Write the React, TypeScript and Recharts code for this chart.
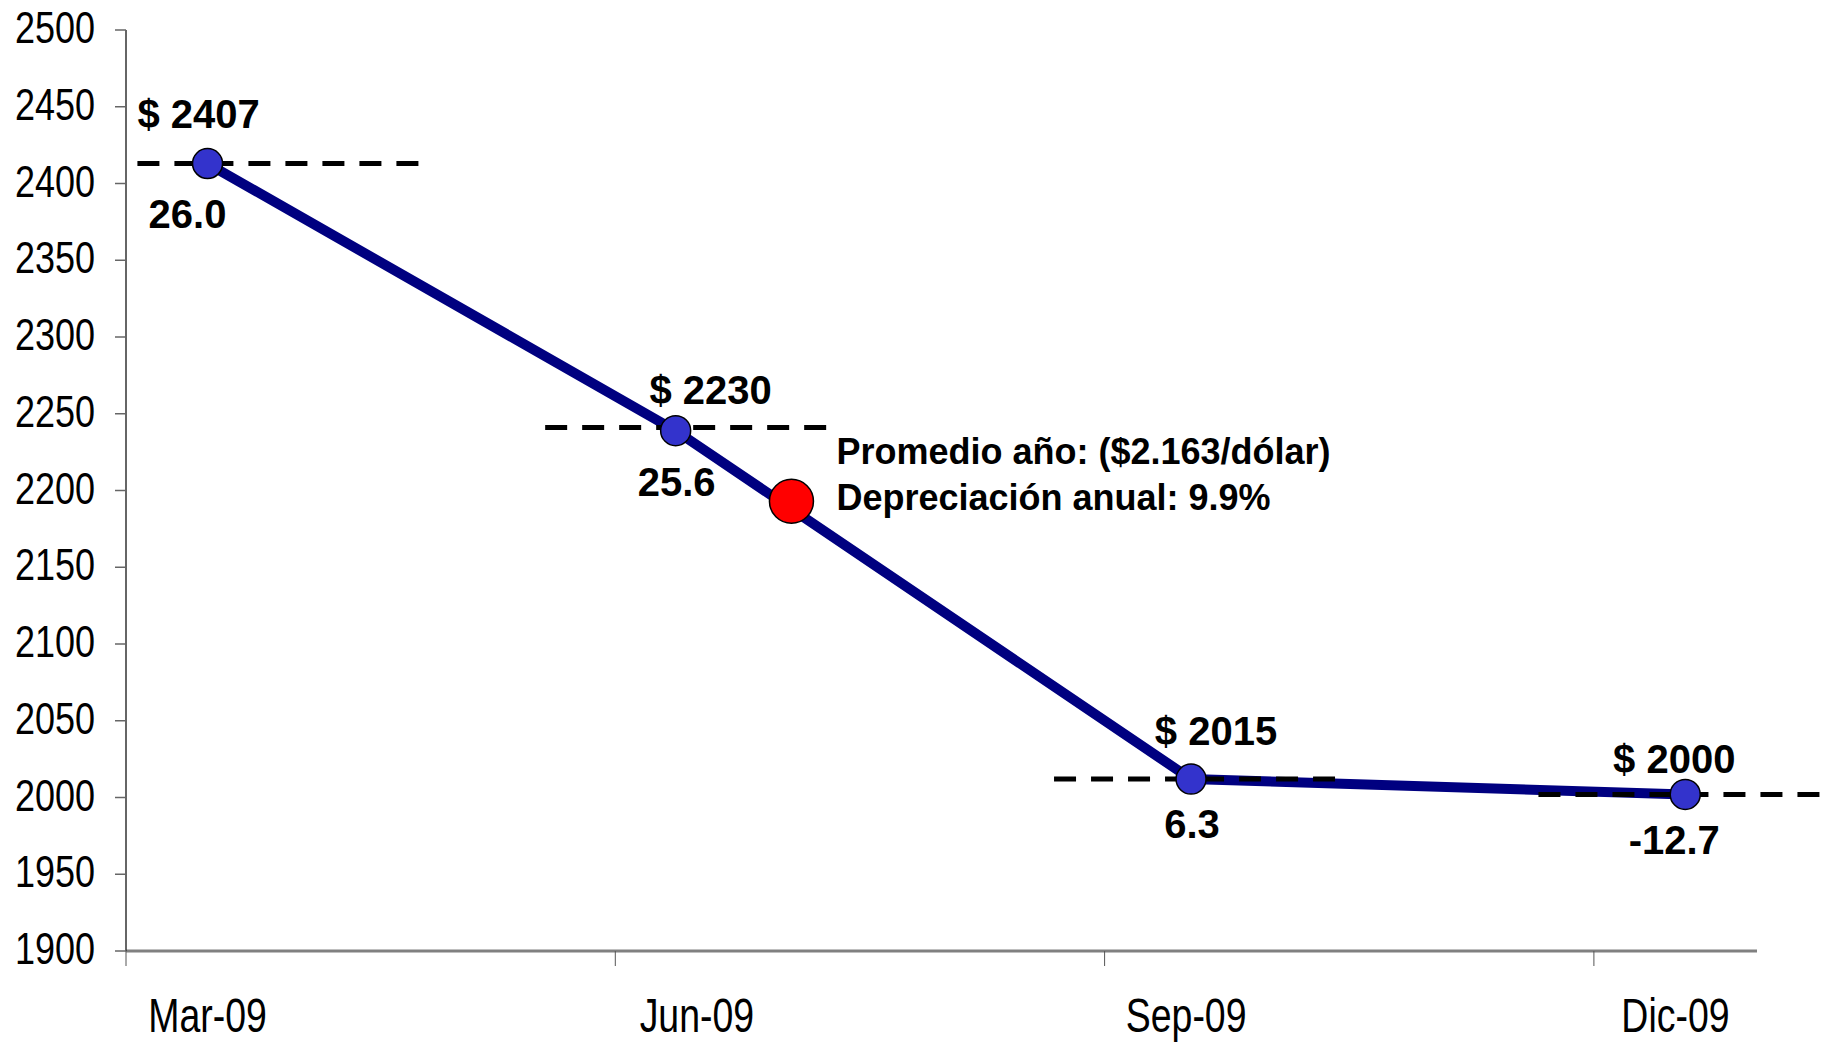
import React from 'react'
import {
  ComposedChart, Line, Scatter, XAxis, YAxis, ReferenceLine, ReferenceDot,
} from 'recharts'

// exchange rate, quarterly closes 2009
const months = ['Mar-09', 'Jun-09', 'Sep-09', 'Dic-09']
const monthLabelPos = [0.5, 3.5, 6.5, 9.5]
const quarterTicks = [0, 3, 6, 9]
const pointX = [0.5, 3.37, 6.53, 9.56]
const rate = [2413, 2239, 2012, 2002]
const priceLabels = ['$ 2407', '$ 2230', '$ 2015', '$ 2000']
const changeLabels = ['26.0', '25.6', '6.3', '-12.7']
const yTicks = [1900, 1950, 2000, 2050, 2100, 2150, 2200, 2250, 2300, 2350, 2400, 2450, 2500]

// dashed level markers
const levelY = [2413, 2241, 2012, 2002]
const levelFrom = [0.07, 2.57, 5.69, 8.66]
const levelTo = [1.81, 4.31, 7.44, 10.4]

// yearly average
const avgX = 4.08
const avgY = 2193
const avgText = ['Promedio año: ($2.163/dólar)', 'Depreciación anual: 9.9%']

// label nudges (px) relative to each point
const priceNudge = [[-9, -36], [35, -27], [25, -34], [-11, -21]]
const changeNudge = [[-20, 64], [1, 65], [1, 59], [-11, 60]]

const points = pointX.map((x, i) => ({
  x,
  y: rate[i],
  price: priceLabels[i],
  change: changeLabels[i],
  idx: i,
}))

const FONT = "'Liberation Sans', Arial, sans-serif"

const YTick = (props: any) => {
  const { x, y, payload } = props
  return (
    <text
      transform={`translate(${x},${y + 13}) scale(0.8,1)`}
      textAnchor="end"
      fontFamily={FONT}
      fontSize={45}
      fill="#000"
    >
      {payload.value}
    </text>
  )
}

const XTick = (props: any) => {
  const { x, y, payload } = props
  const v = payload.value
  const mi = monthLabelPos.indexOf(v)
  if (mi >= 0) {
    return (
      <text
        transform={`translate(${x},${y + 81}) scale(0.78,1)`}
        textAnchor="middle"
        fontFamily={FONT}
        fontSize={48}
        fill="#000"
      >
        {months[mi]}
      </text>
    )
  }
  return <line x1={x} x2={x} y1={y} y2={y + 15} stroke="#555" strokeWidth={1} />
}

const PointShape = (props: any) => {
  const { cx, cy, payload } = props
  const i = payload.idx
  return (
    <g>
      <circle cx={cx} cy={cy} r={15} fill="#3333CC" stroke="#000" strokeWidth={1.5} />
      <text
        x={cx + priceNudge[i][0]}
        y={cy + priceNudge[i][1]}
        textAnchor="middle"
        fontFamily={FONT}
        fontWeight="bold"
        fontSize={40}
        fill="#000"
      >
        {payload.price}
      </text>
      <text
        x={cx + changeNudge[i][0]}
        y={cy + changeNudge[i][1]}
        textAnchor="middle"
        fontFamily={FONT}
        fontWeight="bold"
        fontSize={40}
        fill="#000"
      >
        {payload.change}
      </text>
    </g>
  )
}

const AvgShape = (props: any) => {
  const { cx, cy } = props
  return (
    <g>
      <circle cx={cx} cy={cy} r={22} fill="#FF0000" stroke="#000" strokeWidth={1.5} />
      <text x={cx + 45} y={cy - 37} fontFamily={FONT} fontWeight="bold" fontSize={36} fill="#000">
        {avgText[0]}
      </text>
      <text x={cx + 45} y={cy + 9} fontFamily={FONT} fontWeight="bold" fontSize={36} fill="#000">
        {avgText[1]}
      </text>
    </g>
  )
}

export default function App() {
  return (
    <div style={{ position: 'absolute', left: 0, top: 0, background: '#fff' }}>
      <ComposedChart
        width={1825}
        height={1042}
        data={points}
        margin={{ top: 30, right: 68, bottom: 0, left: 0 }}
      >
        <XAxis
          type="number"
          dataKey="x"
          domain={[0, 10]}
          ticks={[...quarterTicks, ...monthLabelPos].sort((a, b) => a - b)}
          interval={0}
          height={91}
          tickSize={0}
          tickMargin={0}
          tickLine={false}
          axisLine={{ stroke: '#808080', strokeWidth: 3 }}
          tick={<XTick />}
        />
        <YAxis
          type="number"
          domain={[1900, 2500]}
          ticks={yTicks}
          interval={0}
          width={126}
          tickSize={11}
          tickMargin={20}
          axisLine={{ stroke: '#333', strokeWidth: 1.5 }}
          tickLine={{ stroke: '#666', strokeWidth: 1.5 }}
          tick={<YTick />}
        />
        <Line
          type="linear"
          dataKey="y"
          stroke="#000080"
          strokeWidth={10}
          dot={false}
          activeDot={false}
          isAnimationActive={false}
        />
        {levelY.map((l, i) => (
          <ReferenceLine
            key={i}
            segment={[{ x: levelFrom[i], y: l }, { x: levelTo[i], y: l }]}
            stroke="#000"
            strokeWidth={5}
            strokeDasharray="22 15"
            ifOverflow="visible"
          />
        ))}
        <ReferenceDot x={avgX} y={avgY} r={22} ifOverflow="visible" shape={<AvgShape />} />
        <Scatter dataKey="y" shape={<PointShape />} isAnimationActive={false} />
      </ComposedChart>
    </div>
  )
}
